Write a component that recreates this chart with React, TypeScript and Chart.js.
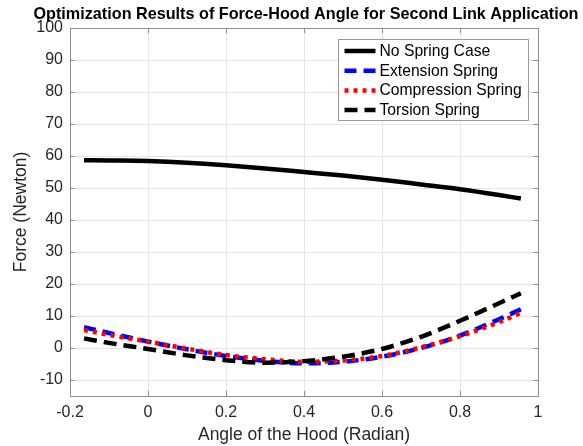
import { useEffect, useRef } from 'react';
import { Chart, registerables } from 'chart.js';

Chart.register(...registerables);

const chartTitle = 'Optimization Results of Force-Hood Angle for Second Link Application';
const xTitle = 'Angle of the Hood (Radian)';
const yTitle = 'Force (Newton)';

const angles = [-0.164, -0.1, 0, 0.1, 0.2, 0.3, 0.4, 0.5, 0.6, 0.7, 0.8, 0.9, 0.956];
const noSpring = [58.7, 58.6, 58.4, 57.9, 57.1, 56.1, 55.0, 53.9, 52.6, 51.1, 49.6, 47.8, 46.7];
const extension = [6.5, 4.7, 2.0, -0.4, -2.5, -4.0, -4.8, -4.3, -2.7, 0.0, 3.9, 9.0, 12.1];
const compression = [5.6, 4.1, 2.0, -0.2, -2.2, -3.5, -4.3, -3.9, -2.5, 0.2, 3.7, 8.1, 11.0];
const torsion = [3.0, 1.6, -0.3, -2.3, -3.8, -4.6, -4.1, -2.7, -0.3, 3.5, 8.5, 14.0, 17.1];

const seriesNames = ['No Spring Case', 'Extension Spring', 'Compression Spring', 'Torsion Spring'];

const xTicks = [-0.2, 0, 0.2, 0.4, 0.6, 0.8, 1];
const yTicks = [-10, 0, 10, 20, 30, 40, 50, 60, 70, 80, 90, 100];

const FONT = '"Liberation Sans", Arial, Helvetica, sans-serif';
const AXIS_COLOR = '#8c8c8c';
const TEXT_COLOR = '#262626';

const toPoints = (ys: number[]) => ys.map((y, i) => ({ x: angles[i], y }));

const framePlugin = {
  id: 'frameTicks',
  beforeDatasetsDraw(chart: any) {
    const { ctx, chartArea } = chart;
    const { left, right, top, bottom } = chartArea;
    const xs = chart.scales.x;
    const ys = chart.scales.y;
    ctx.save();
    ctx.strokeStyle = AXIS_COLOR;
    ctx.lineWidth = 1;
    ctx.beginPath();
    xTicks.forEach((v) => {
      const px = Math.round(xs.getPixelForValue(v)) + 0.5;
      ctx.moveTo(px, bottom);
      ctx.lineTo(px, bottom - 5);
      ctx.moveTo(px, top);
      ctx.lineTo(px, top + 5);
    });
    yTicks.forEach((v) => {
      const py = Math.round(ys.getPixelForValue(v)) + 0.5;
      ctx.moveTo(left, py);
      ctx.lineTo(left + 5, py);
      ctx.moveTo(right, py);
      ctx.lineTo(right - 5, py);
    });
    ctx.stroke();
    ctx.strokeRect(Math.round(left) + 0.5, Math.round(top) + 0.5, Math.round(right - left), Math.round(bottom - top));
    ctx.restore();
  },
};

const titlePlugin = {
  id: 'wideTitle',
  afterDraw(chart: any) {
    const { ctx, chartArea } = chart;
    ctx.save();
    ctx.font = `bold 16.2px ${FONT}`;
    ctx.fillStyle = '#000000';
    ctx.textAlign = 'center';
    ctx.textBaseline = 'middle';
    ctx.fillText(chartTitle, (chartArea.left + chartArea.right) / 2 + 2, chartArea.top - 13);
    ctx.restore();
  },
};

const legendPlugin = {
  id: 'innerLegend',
  afterDatasetsDraw(chart: any) {
    const { ctx, chartArea } = chart;
    const boxW = 190;
    const boxH = 81;
    const bx = Math.round(chartArea.right - 10 - boxW) + 0.5;
    const by = Math.round(chartArea.top + 11) + 0.5;
    ctx.save();
    ctx.fillStyle = '#ffffff';
    ctx.fillRect(bx, by, boxW, boxH);
    ctx.strokeStyle = '#9a9a9a';
    ctx.lineWidth = 1;
    ctx.strokeRect(bx, by, boxW, boxH);
    ctx.font = `15.7px ${FONT}`;
    ctx.textBaseline = 'middle';
    ctx.textAlign = 'left';
    chart.data.datasets.forEach((ds: any, i: number) => {
      const cy = by + 11.5 + i * 19.7;
      ctx.save();
      ctx.strokeStyle = ds.borderColor;
      ctx.lineWidth = ds.borderWidth;
      ctx.setLineDash(ds.borderDash || []);
      ctx.lineCap = 'butt';
      ctx.beginPath();
      ctx.moveTo(bx + 6, cy);
      ctx.lineTo(bx + 37, cy);
      ctx.stroke();
      ctx.restore();
      ctx.fillStyle = '#000000';
      ctx.fillText(ds.label, bx + 41, cy + 0.5);
    });
    ctx.restore();
  },
};

export default function App() {
  const canvasRef = useRef<HTMLCanvasElement | null>(null);

  useEffect(() => {
    if (!canvasRef.current) return;
    const common = { pointRadius: 0, fill: false, cubicInterpolationMode: 'monotone' as const, borderWidth: 4.5, borderCapStyle: 'butt' as const };
    const chart = new Chart(canvasRef.current, {
      type: 'line',
      data: {
        datasets: [
          { ...common, label: seriesNames[0], data: toPoints(noSpring), borderColor: '#000000', order: 4 },
          { ...common, label: seriesNames[1], data: toPoints(extension), borderColor: '#0000ff', borderDash: [12, 7], order: 3 },
          { ...common, label: seriesNames[2], data: toPoints(compression), borderColor: '#ff0000', borderDash: [4, 5], order: 2 },
          { ...common, label: seriesNames[3], data: toPoints(torsion), borderColor: '#000000', borderDash: [13, 7], order: 1 },
        ],
      },
      options: {
        animation: false,
        responsive: false,
        devicePixelRatio: 1,
        layout: { padding: { top: 28, left: 0, right: 45, bottom: 0 } },
        plugins: {
          legend: { display: false },
          tooltip: { enabled: false },
          title: { display: false },
        },
        scales: {
          x: {
            type: 'linear',
            min: -0.2,
            max: 1,
            afterBuildTicks: (s: any) => { s.ticks = xTicks.map((v) => ({ value: v })); },
            afterFit: (s: any) => { s.height = 50; },
            grid: { color: '#e6e6e6', drawTicks: false },
            border: { display: false },
            ticks: {
              color: TEXT_COLOR,
              font: { family: FONT, size: 16 },
              padding: 7,
              maxRotation: 0,
              callback: (v: any) => String(Number(Number(v).toFixed(1))),
            },
            title: {
              display: true,
              text: xTitle,
              color: TEXT_COLOR,
              font: { family: FONT, size: 17.5 },
              padding: { top: 0, bottom: 0 },
            },
          },
          y: {
            type: 'linear',
            min: -15,
            max: 100,
            afterBuildTicks: (s: any) => { s.ticks = yTicks.map((v) => ({ value: v })); },
            afterFit: (s: any) => { s.width = 70; },
            grid: { color: '#e6e6e6', drawTicks: false },
            border: { display: false },
            ticks: {
              color: TEXT_COLOR,
              font: { family: FONT, size: 16 },
              padding: 7,
              callback: (v: any) => String(v),
            },
            title: {
              display: true,
              text: yTitle,
              color: TEXT_COLOR,
              font: { family: FONT, size: 17.5 },
              padding: { top: 11, bottom: 0 },
            },
          },
        },
      },
      plugins: [framePlugin, legendPlugin, titlePlugin],
    });
    return () => chart.destroy();
  }, []);

  return (
    <div style={{ position: 'fixed', left: 0, top: 0, width: 583, height: 446, background: '#ffffff' }}>
      <canvas ref={canvasRef} width={583} height={446} style={{ display: 'block', width: 583, height: 446 }} />
    </div>
  );
}
